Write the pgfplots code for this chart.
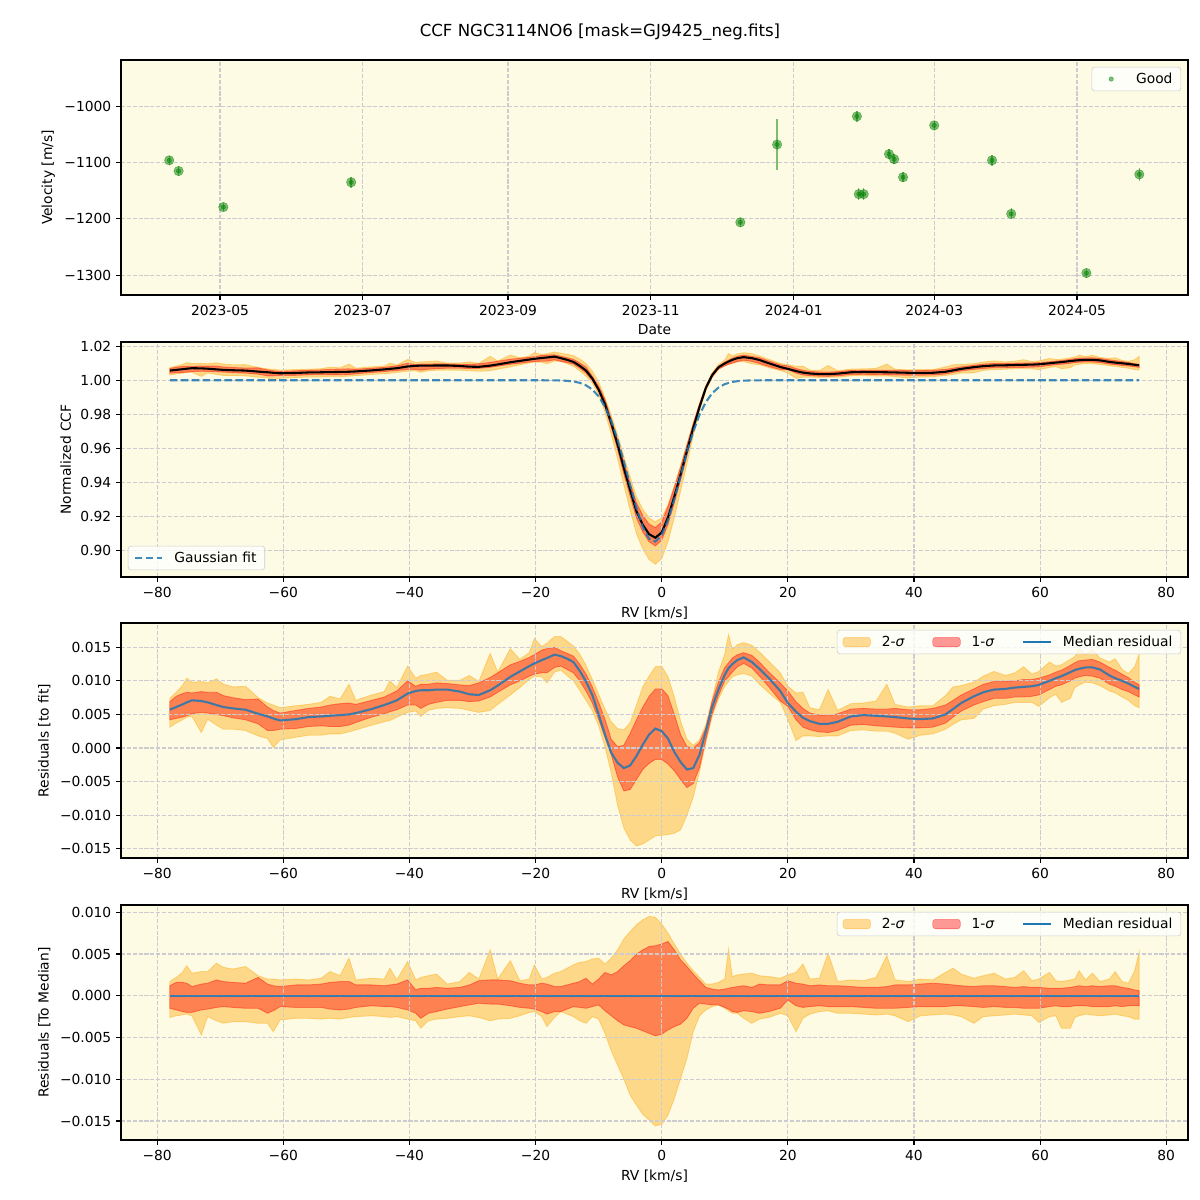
\documentclass[border=0pt]{standalone}
\usepackage{fontspec}
\setmainfont{DejaVu Sans}
\usepackage{pgfplots}
\usepackage{pgfplotstable}
\pgfplotsset{compat=1.18}
\usepgfplotslibrary{fillbetween}

\definecolor{bgc}{RGB}{253,251,227}
\definecolor{gridc}{RGB}{203,203,208}
\definecolor{cO}{RGB}{31,119,180}
\definecolor{band2}{RGB}{255,165,0}
\definecolor{band1}{RGB}{255,0,0}
\definecolor{good}{RGB}{0,128,0}
\definecolor{legedge}{RGB}{204,204,204}

\pgfplotsset{
  layers/bandsbelowgrid/.define layer set={
    axis background,fills,axis grid,axis ticks,axis lines,axis tick labels,pre main,main,axis descriptions,axis foreground
  }{
    grid style={/pgfplots/on layer=axis grid},
    tick style={/pgfplots/on layer=axis ticks},
    axis line style={/pgfplots/on layer=axis lines},
    label style={/pgfplots/on layer=axis descriptions},
    legend style={/pgfplots/on layer=axis descriptions},
    title style={/pgfplots/on layer=axis descriptions},
    colorbar style={/pgfplots/on layer=axis descriptions},
    ticklabel style={/pgfplots/on layer=axis tick labels},
    axis background@ style={/pgfplots/on layer=axis background},
    3d box foreground style={/pgfplots/on layer=axis foreground},
  },
  panel/.style={
    set layers=bandsbelowgrid,
    scale only axis, width=10.67in, height=2.35in,
    axis background/.style={fill=bgc},
    grid=major,
    grid style={gridc, line width=0.8pt, dash pattern=on 2.96pt off 1.28pt},
    tick align=outside, tick pos=left,
    major tick length=3.5pt,
    tick style={black, line width=0.8pt},
    axis line style={line width=0.8pt},
    scaled y ticks=false, scaled x ticks=false,
    legend cell align=left,
    legend style={fill=white, fill opacity=0.8, text opacity=1, draw=legedge, rounded corners=2pt,
      inner xsep=4pt, inner ysep=2pt,
      /tikz/every odd column/.append style={column sep=6pt}},
  },
  rv axis/.style={
    xmin=-85.74, xmax=83.46,
    xtick={-80,-60,-40,-20,0,20,40,60,80},
    xticklabels={−80,−60,−40,−20,0,20,40,60,80},
    xlabel={RV [km/s]},
  },
  twosig/.style={fill=band2, fill opacity=0.4, draw=band2, draw opacity=0.4, line width=0.6pt},
  onesig/.style={fill=band1, fill opacity=0.4, draw=band1, draw opacity=0.4, line width=0.6pt},
  patch legend/.style={legend image code/.code={\draw[##1] (0cm,-0.12cm) rectangle (0.7cm,0.12cm);}},
  wide line legend/.style={legend image code/.code={\draw[##1] (0cm,0cm) -- (0.7cm,0cm);}},
  dot legend/.style={legend image code/.code={\path[draw=none, fill=none] (0cm,0cm) rectangle (0.7cm,0cm); \draw[##1] plot coordinates {(0.35cm,0cm)};}},
}

\begin{document}

% RV time series, x = days since 2023-01-01
\pgfplotstableread{
d v e
98.3 -1096 8
102.3 -1115 9
121.4 -1179 7
176.0 -1135 10
342.2 -1206 8
357.9 -1068 45
392.0 -1018 10
392.8 -1156 10
394.9 -1156 11
405.7 -1085 9
407.9 -1094 9
411.7 -1126 9
425.0 -1034 8
449.7 -1096 10
457.9 -1191 10
490.0 -1296 8
512.6 -1121 11
}\tabrv

\pgfplotstableread{
x g
-78 1.0000
-20 1.0000
-18 0.99998
-17 0.99994
-16 0.99986
-15 0.99967
-14 0.99928
-13 0.99849
-12 0.99705
-11 0.99455
-10 0.99052
-9 0.98447
-8 0.97601
-7 0.96509
-6 0.95215
-5 0.93820
-4 0.92477
-3 0.91373
-2 0.90679
-1 0.90511
0 0.90899
1 0.91774
2 0.92996
3 0.94380
4 0.95752
5 0.96974
6 0.97970
7 0.98716
8 0.99235
9 0.99571
10 0.99773
11 0.99887
12 0.99947
13 0.99976
14 0.99990
15 0.99996
16 1.0000
75.7 1.0000
}\tabgauss

% CCF median and its 1/2-sigma envelopes
\pgfplotstableread{
x c l2 l1 u1 u2
-78.0 1.0057 1.0031 1.0042 1.0069 1.0074
-77.0 1.0061 1.0037 1.0044 1.0077 1.0083
-76.0 1.0065 1.0042 1.0046 1.0081 1.0093
-75.3 1.0068 1.0046 1.0048 1.0083 1.0104
-74.5 1.0071 1.0047 1.0051 1.0082 1.0098
-73.0 1.0070 1.0023 1.0053 1.0084 1.0099
-72.0 1.0068 1.0043 1.0052 1.0083 1.0097
-70.6 1.0064 1.0034 1.0050 1.0083 1.0103
-69.5 1.0061 1.0028 1.0048 1.0078 1.0095
-68.0 1.0059 1.0028 1.0045 1.0075 1.0091
-66.0 1.0057 1.0026 1.0042 1.0072 1.0092
-64.0 1.0051 1.0018 1.0036 1.0073 1.0075
-62.5 1.0047 1.0014 1.0026 1.0061 1.0067
-61.6 1.0044 1.0001 1.0026 1.0056 1.0064
-60.5 1.0041 1.0012 1.0028 1.0052 1.0060
-58.0 1.0043 1.0016 1.0029 1.0056 1.0063
-56.0 1.0046 1.0019 1.0032 1.0059 1.0065
-54.0 1.0047 1.0019 1.0033 1.0061 1.0068
-52.6 1.0048 1.0021 1.0032 1.0064 1.0077
-51.0 1.0049 1.0021 1.0032 1.0066 1.0073
-49.6 1.0050 1.0024 1.0034 1.0067 1.0095
-48.5 1.0052 1.0027 1.0038 1.0065 1.0071
-46.0 1.0058 1.0034 1.0046 1.0071 1.0079
-44.0 1.0064 1.0039 1.0051 1.0076 1.0084
-43.1 1.0067 1.0041 1.0054 1.0080 1.0100
-42.0 1.0071 1.0046 1.0057 1.0085 1.0090
-40.3 1.0081 1.0053 1.0064 1.0100 1.0122
-39.0 1.0085 1.0055 1.0064 1.0092 1.0104
-38.2 1.0086 1.0047 1.0059 1.0095 1.0108
-37.0 1.0086 1.0056 1.0065 1.0095 1.0110
-35.7 1.0087 1.0059 1.0068 1.0097 1.0113
-34.0 1.0087 1.0060 1.0071 1.0096 1.0101
-32.0 1.0084 1.0059 1.0071 1.0094 1.0101
-30.5 1.0080 1.0056 1.0069 1.0093 1.0108
-29.0 1.0079 1.0053 1.0070 1.0097 1.0099
-27.2 1.0086 1.0056 1.0076 1.0105 1.0141
-26.0 1.0093 1.0065 1.0083 1.0112 1.0113
-24.0 1.0106 1.0079 1.0094 1.0124 1.0148
-22.5 1.0114 1.0090 1.0100 1.0129 1.0132
-21.0 1.0122 1.0102 1.0107 1.0135 1.0142
-20.2 1.0126 1.0107 1.0110 1.0139 1.0163
-19.0 1.0131 1.0106 1.0112 1.0146 1.0151
-18.2 1.0134 1.0097 1.0112 1.0148 1.0156
-17.0 1.0139 1.0113 1.0120 1.0150 1.0166
-16 1.0130 1.0111 1.0111 1.0141 1.0159
-15 1.0120 1.0098 1.0104 1.0133 1.0153
-14 1.0108 1.0083 1.0095 1.0123 1.0145
-13 1.0085 1.0055 1.0071 1.0102 1.0125
-12 1.0057 1.0024 1.0042 1.0078 1.0098
-11 1.0010 0.9985 0.9997 1.0024 1.0054
-10 0.9945 0.9917 0.9934 0.9965 0.9990
-9 0.9860 0.9815 0.9842 0.9888 0.9898
-8 0.9748 0.9682 0.9724 0.9773 0.9793
-7 0.9623 0.9540 0.9593 0.9652 0.9678
-6 0.9484 0.9384 0.9449 0.9520 0.9552
-5 0.9354 0.9235 0.9317 0.9396 0.9431
-4 0.9229 0.9098 0.9190 0.9279 0.9314
-3 0.9150 0.9008 0.9108 0.9205 0.9241
-2 0.9095 0.8946 0.9050 0.9154 0.9190
-1 0.9074 0.8918 0.9026 0.9134 0.9168
0 0.9105 0.8951 0.9059 0.9167 0.9191
1 0.9193 0.9050 0.9152 0.9258 0.9268
2 0.9316 0.9193 0.9279 0.9371 0.9378
3 0.9447 0.9348 0.9413 0.9490 0.9497
4 0.9584 0.9509 0.9557 0.9619 0.9623
5 0.9719 0.9676 0.9704 0.9745 0.9749
6 0.9843 0.9819 0.9834 0.9861 0.9865
7 0.9955 0.9938 0.9945 0.9965 0.9969
8 1.0030 1.0017 1.0019 1.0038 1.0044
9 1.0076 1.0065 1.0065 1.0083 1.0092
10 1.0099 1.0084 1.0085 1.0107 1.0119
10.6 1.0110 1.0092 1.0094 1.0119 1.0157
11.2 1.0120 1.0099 1.0101 1.0130 1.0143
12 1.0130 1.0109 1.0110 1.0141 1.0155
13 1.0136 1.0109 1.0118 1.0148 1.0162
14.3 1.0130 1.0097 1.0111 1.0140 1.0157
15.5 1.0119 1.0091 1.0098 1.0133 1.0143
17 1.0100 1.0074 1.0081 1.0113 1.0123
18.8 1.0078 1.0057 1.0063 1.0091 1.0099
20.0 1.0067 1.0043 1.0062 1.0085 1.0092
21.3 1.0054 1.0011 1.0042 1.0069 1.0082
22.4 1.0045 1.0018 1.0031 1.0059 1.0083
23.5 1.0040 1.0018 1.0027 1.0052 1.0060
25.0 1.0036 1.0017 1.0024 1.0049 1.0057
26.4 1.0036 1.0018 1.0023 1.0048 1.0087
27.9 1.0039 1.0018 1.0026 1.0051 1.0056
30.0 1.0047 1.0026 1.0034 1.0058 1.0066
32.0 1.0049 1.0027 1.0035 1.0059 1.0067
34.0 1.0048 1.0025 1.0033 1.0058 1.0070
35.7 1.0047 1.0025 1.0032 1.0058 1.0095
37.0 1.0046 1.0022 1.0031 1.0059 1.0065
39.1 1.0044 1.0013 1.0030 1.0057 1.0061
41.0 1.0043 1.0019 1.0030 1.0057 1.0063
43.0 1.0044 1.0021 1.0031 1.0059 1.0063
45.0 1.0050 1.0028 1.0037 1.0064 1.0078
46.2 1.0058 1.0035 1.0046 1.0071 1.0091
47.5 1.0067 1.0042 1.0055 1.0079 1.0093
49.5 1.0077 1.0044 1.0064 1.0088 1.0098
51.0 1.0083 1.0058 1.0069 1.0095 1.0107
52.7 1.0087 1.0063 1.0074 1.0099 1.0114
54.5 1.0088 1.0065 1.0074 1.0099 1.0108
56.0 1.0090 1.0068 1.0076 1.0100 1.0112
57.4 1.0091 1.0068 1.0076 1.0102 1.0121
58.7 1.0092 1.0068 1.0077 1.0102 1.0110
59.8 1.0094 1.0062 1.0079 1.0104 1.0114
61.5 1.0100 1.0075 1.0087 1.0109 1.0128
62.5 1.0104 1.0080 1.0092 1.0113 1.0122
63.4 1.0107 1.0068 1.0094 1.0116 1.0124
64.8 1.0113 1.0074 1.0100 1.0123 1.0132
65.5 1.0116 1.0090 1.0104 1.0127 1.0136
66.2 1.0118 1.0094 1.0106 1.0130 1.0148
67.2 1.0120 1.0098 1.0108 1.0131 1.0139
68.3 1.0120 1.0097 1.0107 1.0132 1.0147
69.5 1.0117 1.0093 1.0104 1.0128 1.0134
71.0 1.0108 1.0085 1.0095 1.0120 1.0128
71.9 1.0104 1.0082 1.0092 1.0116 1.0133
73.0 1.0100 1.0076 1.0087 1.0110 1.0117
74.0 1.0096 1.0071 1.0084 1.0105 1.0111
75.0 1.0091 1.0063 1.0079 1.0098 1.0121
75.7 1.0088 1.0060 1.0076 1.0094 1.0140
}\tabccf

% residuals to the Gaussian fit: median and envelopes
\pgfplotstableread{
x m l2 l1 u1 u2
-78.0 0.0057 0.0031 0.0042 0.0069 0.0074
-77.0 0.0061 0.0037 0.0044 0.0077 0.0083
-76.0 0.0065 0.0042 0.0046 0.0081 0.0093
-75.3 0.0068 0.0046 0.0048 0.0083 0.0104
-74.5 0.0071 0.0047 0.0051 0.0082 0.0098
-73.0 0.0070 0.0023 0.0053 0.0084 0.0099
-72.0 0.0068 0.0043 0.0052 0.0083 0.0097
-70.6 0.0064 0.0034 0.0050 0.0083 0.0103
-69.5 0.0061 0.0028 0.0048 0.0078 0.0095
-68.0 0.0059 0.0028 0.0045 0.0075 0.0091
-66.0 0.0057 0.0026 0.0042 0.0072 0.0092
-64.0 0.0051 0.0018 0.0036 0.0073 0.0075
-62.5 0.0047 0.0014 0.0026 0.0061 0.0067
-61.6 0.0044 0.0001 0.0026 0.0056 0.0064
-60.5 0.0041 0.0012 0.0028 0.0052 0.0060
-58.0 0.0043 0.0016 0.0029 0.0056 0.0063
-56.0 0.0046 0.0019 0.0032 0.0059 0.0065
-54.0 0.0047 0.0019 0.0033 0.0061 0.0068
-52.6 0.0048 0.0021 0.0032 0.0064 0.0077
-51.0 0.0049 0.0021 0.0032 0.0066 0.0073
-49.6 0.0050 0.0024 0.0034 0.0067 0.0095
-48.5 0.0052 0.0027 0.0038 0.0065 0.0071
-46.0 0.0058 0.0034 0.0046 0.0071 0.0079
-44.0 0.0064 0.0039 0.0051 0.0076 0.0084
-43.1 0.0067 0.0041 0.0054 0.0080 0.0100
-42.0 0.0071 0.0046 0.0057 0.0085 0.0090
-40.3 0.0081 0.0053 0.0064 0.0100 0.0122
-39.0 0.0085 0.0055 0.0064 0.0092 0.0104
-38.2 0.0086 0.0047 0.0059 0.0095 0.0108
-37.0 0.0086 0.0056 0.0065 0.0095 0.0110
-35.7 0.0087 0.0059 0.0068 0.0097 0.0113
-34.0 0.0087 0.0060 0.0071 0.0096 0.0101
-32.0 0.0084 0.0059 0.0071 0.0094 0.0101
-30.5 0.0080 0.0056 0.0069 0.0093 0.0108
-29.0 0.0079 0.0053 0.0070 0.0097 0.0099
-27.2 0.0086 0.0056 0.0076 0.0105 0.0141
-26.0 0.0093 0.0065 0.0083 0.0112 0.0113
-24.0 0.0106 0.0079 0.0094 0.0124 0.0148
-22.5 0.0114 0.0090 0.0100 0.0129 0.0132
-21.0 0.0122 0.0102 0.0107 0.0135 0.0142
-20.2 0.0126 0.0107 0.0110 0.0139 0.0163
-19.0 0.0131 0.0106 0.0112 0.0146 0.0151
-18.2 0.0134 0.0097 0.0112 0.0148 0.0156
-17.0 0.0139 0.0113 0.0120 0.0150 0.0166
-16 0.0137 0.0116 0.0122 0.0145 0.0166
-15 0.0133 0.0108 0.0117 0.0141 0.0159
-14 0.0128 0.0100 0.0112 0.0137 0.0152
-13 0.0115 0.0086 0.0100 0.0125 0.0140
-12 0.0099 0.0071 0.0085 0.0110 0.0123
-11 0.0079 0.0056 0.0067 0.0091 0.0102
-10 0.0050 0.0033 0.0043 0.0068 0.0080
-9 0.0020 0.0002 0.0016 0.0043 0.0058
-8 -0.0007 -0.0037 -0.0010 0.0013 0.0039
-7 -0.0022 -0.0085 -0.0043 0.0002 0.0029
-6 -0.0030 -0.0119 -0.0064 0.0004 0.0027
-5 -0.0026 -0.0137 -0.0062 0.0022 0.0038
-4 -0.0012 -0.0146 -0.0047 0.0042 0.0064
-3 0.0005 -0.0143 -0.0032 0.0061 0.0091
-2 0.0020 -0.0137 -0.0023 0.0077 0.0107
-1 0.0029 -0.0131 -0.0017 0.0088 0.0121
0 0.0025 -0.0130 -0.0017 0.0088 0.0122
1 0.0014 -0.0129 -0.0024 0.0078 0.0106
2 -0.0006 -0.0127 -0.0034 0.0050 0.0076
3 -0.0021 -0.0122 -0.0047 0.0020 0.0040
4 -0.0032 -0.0100 -0.0059 0.0002 0.0013
5 -0.0030 -0.0073 -0.0053 0.0000 0.0004
6 -0.0010 -0.0035 -0.0029 0.0008 0.0012
7 0.0025 0.0008 0.0012 0.0030 0.0035
8 0.0061 0.0047 0.0051 0.0070 0.0072
9 0.0087 0.0073 0.0078 0.0098 0.0113
10 0.0109 0.0092 0.0100 0.0120 0.0140
10.6 0.0119 0.0099 0.0106 0.0127 0.0169
11.2 0.0125 0.0106 0.0113 0.0134 0.0147
12 0.0131 0.0109 0.0121 0.0139 0.0154
13 0.0135 0.0111 0.0126 0.0142 0.0157
14.3 0.0128 0.0107 0.0119 0.0138 0.0153
15.5 0.0118 0.0095 0.0107 0.0128 0.0143
17 0.0104 0.0082 0.0091 0.0113 0.0129
18.8 0.0085 0.0068 0.0070 0.0097 0.0112
20.0 0.0067 0.0043 0.0062 0.0085 0.0092
21.3 0.0054 0.0011 0.0042 0.0069 0.0082
22.4 0.0045 0.0018 0.0031 0.0059 0.0083
23.5 0.0040 0.0018 0.0027 0.0052 0.0060
25.0 0.0036 0.0017 0.0024 0.0049 0.0057
26.4 0.0036 0.0018 0.0023 0.0048 0.0087
27.9 0.0039 0.0018 0.0026 0.0051 0.0056
30.0 0.0047 0.0026 0.0034 0.0058 0.0066
32.0 0.0049 0.0027 0.0035 0.0059 0.0067
34.0 0.0048 0.0025 0.0033 0.0058 0.0070
35.7 0.0047 0.0025 0.0032 0.0058 0.0095
37.0 0.0046 0.0022 0.0031 0.0059 0.0065
39.1 0.0044 0.0013 0.0030 0.0057 0.0061
41.0 0.0043 0.0019 0.0030 0.0057 0.0063
43.0 0.0044 0.0021 0.0031 0.0059 0.0063
45.0 0.0050 0.0028 0.0037 0.0064 0.0078
46.2 0.0058 0.0035 0.0046 0.0071 0.0091
47.5 0.0067 0.0042 0.0055 0.0079 0.0093
49.5 0.0077 0.0044 0.0064 0.0088 0.0098
51.0 0.0083 0.0058 0.0069 0.0095 0.0107
52.7 0.0087 0.0063 0.0074 0.0099 0.0114
54.5 0.0088 0.0065 0.0074 0.0099 0.0108
56.0 0.0090 0.0068 0.0076 0.0100 0.0112
57.4 0.0091 0.0068 0.0076 0.0102 0.0121
58.7 0.0092 0.0068 0.0077 0.0102 0.0110
59.8 0.0094 0.0062 0.0079 0.0104 0.0114
61.5 0.0100 0.0075 0.0087 0.0109 0.0128
62.5 0.0104 0.0080 0.0092 0.0113 0.0122
63.4 0.0107 0.0068 0.0094 0.0116 0.0124
64.8 0.0113 0.0074 0.0100 0.0123 0.0132
65.5 0.0116 0.0090 0.0104 0.0127 0.0136
66.2 0.0118 0.0094 0.0106 0.0130 0.0148
67.2 0.0120 0.0098 0.0108 0.0131 0.0139
68.3 0.0120 0.0097 0.0107 0.0132 0.0147
69.5 0.0117 0.0093 0.0104 0.0128 0.0134
71.0 0.0108 0.0085 0.0095 0.0120 0.0128
71.9 0.0104 0.0082 0.0092 0.0116 0.0133
73.0 0.0100 0.0076 0.0087 0.0110 0.0117
74.0 0.0096 0.0071 0.0084 0.0105 0.0111
75.0 0.0091 0.0063 0.0079 0.0098 0.0121
75.7 0.0088 0.0060 0.0076 0.0094 0.0140
}\tabres

% residuals to the median CCF: envelopes
\pgfplotstableread{
x l2 l1 u1 u2
-78.0 -0.0026 -0.0015 0.0012 0.0017
-77.0 -0.0024 -0.0017 0.0016 0.0022
-76.0 -0.0023 -0.0019 0.0016 0.0028
-75.3 -0.0022 -0.0020 0.0015 0.0036
-74.5 -0.0024 -0.0020 0.0011 0.0027
-73.0 -0.0047 -0.0017 0.0014 0.0029
-72.0 -0.0025 -0.0016 0.0015 0.0029
-70.6 -0.0030 -0.0014 0.0019 0.0039
-69.5 -0.0033 -0.0013 0.0017 0.0034
-68.0 -0.0031 -0.0014 0.0016 0.0032
-66.0 -0.0031 -0.0015 0.0015 0.0035
-64.0 -0.0033 -0.0015 0.0022 0.0024
-62.5 -0.0033 -0.0021 0.0014 0.0020
-61.6 -0.0043 -0.0018 0.0012 0.0020
-60.5 -0.0029 -0.0013 0.0011 0.0019
-58.0 -0.0027 -0.0014 0.0013 0.0020
-56.0 -0.0027 -0.0014 0.0013 0.0019
-54.0 -0.0028 -0.0014 0.0014 0.0021
-52.6 -0.0027 -0.0016 0.0016 0.0029
-51.0 -0.0028 -0.0017 0.0017 0.0024
-49.6 -0.0026 -0.0016 0.0017 0.0045
-48.5 -0.0025 -0.0014 0.0013 0.0019
-46.0 -0.0024 -0.0012 0.0013 0.0021
-44.0 -0.0025 -0.0013 0.0012 0.0020
-43.1 -0.0026 -0.0013 0.0013 0.0033
-42.0 -0.0025 -0.0014 0.0014 0.0019
-40.3 -0.0028 -0.0017 0.0019 0.0041
-39.0 -0.0030 -0.0021 0.0007 0.0019
-38.2 -0.0039 -0.0027 0.0009 0.0022
-37.0 -0.0030 -0.0021 0.0009 0.0024
-35.7 -0.0028 -0.0019 0.0010 0.0026
-34.0 -0.0027 -0.0016 0.0009 0.0014
-32.0 -0.0025 -0.0013 0.0010 0.0017
-30.5 -0.0024 -0.0011 0.0013 0.0028
-29.0 -0.0026 -0.0009 0.0018 0.0020
-27.2 -0.0030 -0.0010 0.0019 0.0055
-26.0 -0.0028 -0.0010 0.0019 0.0020
-24.0 -0.0027 -0.0012 0.0018 0.0042
-22.5 -0.0024 -0.0014 0.0015 0.0018
-21.0 -0.0020 -0.0015 0.0013 0.0020
-20.2 -0.0019 -0.0016 0.0013 0.0037
-19.0 -0.0025 -0.0019 0.0015 0.0020
-18.2 -0.0037 -0.0022 0.0014 0.0022
-17.0 -0.0026 -0.0019 0.0011 0.0027
-16 -0.0019 -0.0019 0.0011 0.0029
-15 -0.0022 -0.0016 0.0013 0.0033
-14 -0.0025 -0.0013 0.0015 0.0037
-13 -0.0030 -0.0014 0.0017 0.0040
-12 -0.0033 -0.0015 0.0021 0.0041
-11 -0.0025 -0.0013 0.0014 0.0044
-10 -0.0028 -0.0011 0.0020 0.0045
-9 -0.0045 -0.0018 0.0028 0.0038
-8 -0.0066 -0.0024 0.0025 0.0045
-7 -0.0083 -0.0030 0.0029 0.0055
-6 -0.0100 -0.0035 0.0036 0.0068
-5 -0.0119 -0.0037 0.0042 0.0077
-4 -0.0131 -0.0039 0.0050 0.0085
-3 -0.0142 -0.0042 0.0055 0.0091
-2 -0.0149 -0.0045 0.0059 0.0095
-1 -0.0156 -0.0048 0.0060 0.0094
0 -0.0154 -0.0046 0.0062 0.0086
1 -0.0143 -0.0041 0.0065 0.0075
2 -0.0123 -0.0037 0.0055 0.0062
3 -0.0099 -0.0034 0.0043 0.0050
4 -0.0075 -0.0027 0.0035 0.0039
5 -0.0043 -0.0015 0.0026 0.0030
6 -0.0024 -0.0009 0.0018 0.0022
7 -0.0017 -0.0010 0.0010 0.0014
8 -0.0013 -0.0011 0.0008 0.0014
9 -0.0011 -0.0011 0.0007 0.0016
10 -0.0015 -0.0014 0.0008 0.0020
10.6 -0.0018 -0.0016 0.0009 0.0056
11.2 -0.0021 -0.0019 0.0010 0.0023
12 -0.0021 -0.0020 0.0011 0.0025
13 -0.0027 -0.0018 0.0012 0.0026
14.3 -0.0033 -0.0019 0.0010 0.0027
15.5 -0.0028 -0.0021 0.0014 0.0024
17 -0.0026 -0.0019 0.0013 0.0023
18.8 -0.0021 -0.0015 0.0013 0.0021
20.0 -0.0024 -0.0005 0.0018 0.0025
21.3 -0.0043 -0.0012 0.0015 0.0028
22.4 -0.0027 -0.0014 0.0014 0.0038
23.5 -0.0022 -0.0013 0.0012 0.0020
25.0 -0.0019 -0.0012 0.0013 0.0021
26.4 -0.0018 -0.0013 0.0012 0.0051
27.9 -0.0021 -0.0013 0.0012 0.0017
30.0 -0.0021 -0.0013 0.0011 0.0019
32.0 -0.0022 -0.0014 0.0010 0.0018
34.0 -0.0023 -0.0015 0.0010 0.0022
35.7 -0.0022 -0.0015 0.0011 0.0048
37.0 -0.0024 -0.0015 0.0013 0.0019
39.1 -0.0031 -0.0014 0.0013 0.0017
41.0 -0.0024 -0.0013 0.0014 0.0020
43.0 -0.0023 -0.0013 0.0015 0.0019
45.0 -0.0022 -0.0013 0.0014 0.0028
46.2 -0.0023 -0.0012 0.0013 0.0033
47.5 -0.0025 -0.0012 0.0012 0.0026
49.5 -0.0033 -0.0013 0.0011 0.0021
51.0 -0.0025 -0.0014 0.0012 0.0024
52.7 -0.0024 -0.0013 0.0012 0.0027
54.5 -0.0023 -0.0014 0.0011 0.0020
56.0 -0.0022 -0.0014 0.0010 0.0022
57.4 -0.0023 -0.0015 0.0011 0.0030
58.7 -0.0024 -0.0015 0.0010 0.0018
59.8 -0.0032 -0.0015 0.0010 0.0020
61.5 -0.0025 -0.0013 0.0009 0.0028
62.5 -0.0024 -0.0012 0.0009 0.0018
63.4 -0.0039 -0.0013 0.0009 0.0017
64.8 -0.0039 -0.0013 0.0010 0.0019
65.5 -0.0026 -0.0012 0.0011 0.0020
66.2 -0.0024 -0.0012 0.0012 0.0030
67.2 -0.0022 -0.0012 0.0011 0.0019
68.3 -0.0023 -0.0013 0.0012 0.0027
69.5 -0.0024 -0.0013 0.0011 0.0017
71.0 -0.0023 -0.0013 0.0012 0.0020
71.9 -0.0022 -0.0012 0.0012 0.0029
73.0 -0.0024 -0.0013 0.0010 0.0017
74.0 -0.0025 -0.0012 0.0009 0.0015
75.0 -0.0028 -0.0012 0.0007 0.0030
75.7 -0.0028 -0.0012 0.0006 0.0052
}\tabmed

\pgfplotstableread{
x m
-78.0 0
75.7 0
}\tabzero

\begin{tikzpicture}

% ---- panel 1: RV vs date
\begin{axis}[panel, at={(0,0)}, anchor=north west,
  xmin=77.7, xmax=533.4, ymin=-1335, ymax=-918,
  xtick={120,181,243,304,365,425,486},
  xticklabels={2023-05,2023-07,2023-09,2023-11,2024-01,2024-03,2024-05},
  ytick={-1300,-1200,-1100,-1000},
  yticklabels={−1300,−1200,−1100,−1000},
  xlabel={Date}, ylabel={Velocity [m/s]},
  legend style={at={(1,1)}, anchor=north east, xshift=-5pt, yshift=-5pt},
]
\addplot[only marks, mark=*, mark size=3.4pt, good, opacity=0.5, forget plot,
  error bars/.cd, y dir=both, y explicit, error mark=none,
  error bar style={good, line width=1pt}]
  table[x=d, y=v, y error=e]{\tabrv};
\addplot[only marks, mark=*, mark size=1.6pt, good, opacity=0.5, dot legend] table[x=d, y=v]{\tabrv};
\addlegendentry{Good}
\end{axis}

% ---- panel 2: CCF
\begin{axis}[panel, rv axis, at={(0,-2.82in)}, anchor=north west,
  ymin=0.8843, ymax=1.0225,
  ytick={0.90,0.92,0.94,0.96,0.98,1.00,1.02},
  yticklabels={0.90,0.92,0.94,0.96,0.98,1.00,1.02},
  ylabel={Normalized CCF},
  legend style={at={(0,0)}, anchor=south west, xshift=5pt, yshift=5pt},
]
\addplot[draw=none, name path=cu2, forget plot] table[x=x, y=u2]{\tabccf};
\addplot[draw=none, name path=cl2, forget plot] table[x=x, y=l2]{\tabccf};
\addplot[draw=none, name path=cu1, forget plot] table[x=x, y=u1]{\tabccf};
\addplot[draw=none, name path=cl1, forget plot] table[x=x, y=l1]{\tabccf};
\addplot[twosig, forget plot] fill between[of=cu2 and cl2, on layer=fills];
\addplot[onesig, forget plot] fill between[of=cu1 and cl1, on layer=fills];
\addplot[black, line width=1.5pt, forget plot] table[x=x, y=c]{\tabccf};
\addplot[cO, opacity=0.85, line width=1.5pt, dash pattern=on 5.5pt off 2.4pt, wide line legend] table[x=x, y=g]{\tabgauss};
\addlegendentry{Gaussian fit}
\end{axis}

% ---- panel 3: residuals to fit
\begin{axis}[panel, rv axis, at={(0,-5.63in)}, anchor=north west,
  ymin=-0.01639, ymax=0.01862,
  ytick={-0.015,-0.01,-0.005,0,0.005,0.01,0.015},
  yticklabels={−0.015,−0.010,−0.005,0.000,0.005,0.010,0.015},
  ylabel={Residuals [to fit]},
  legend columns=3,
  legend style={at={(1,1)}, anchor=north east, xshift=-5pt, yshift=-5pt,
    /tikz/every even column/.append style={column sep=18pt}},
]
\addplot[draw=none, name path=ru2, forget plot] table[x=x, y=u2]{\tabres};
\addplot[draw=none, name path=rl2, forget plot] table[x=x, y=l2]{\tabres};
\addplot[draw=none, name path=ru1, forget plot] table[x=x, y=u1]{\tabres};
\addplot[draw=none, name path=rl1, forget plot] table[x=x, y=l1]{\tabres};
\addplot[twosig, forget plot] fill between[of=ru2 and rl2, on layer=fills];
\addplot[onesig, forget plot] fill between[of=ru1 and rl1, on layer=fills];
\addplot[cO, opacity=0.85, line width=1.5pt, forget plot] table[x=x, y=m]{\tabres};
\addlegendimage{patch legend, fill=band2, fill opacity=0.4, draw=band2, draw opacity=0.4}
\addlegendentry{2-\textit{σ}}
\addlegendimage{patch legend, fill=band1, fill opacity=0.4, draw=band1, draw opacity=0.4}
\addlegendentry{1-\textit{σ}}
\addlegendimage{wide line legend, cO, line width=1.5pt}
\addlegendentry{Median residual}
\end{axis}

% ---- panel 4: residuals to median
\begin{axis}[panel, rv axis, at={(0,-8.45in)}, anchor=north west,
  ymin=-0.01728, ymax=0.01087,
  ytick={-0.015,-0.01,-0.005,0,0.005,0.01},
  yticklabels={−0.015,−0.010,−0.005,0.000,0.005,0.010},
  ylabel={Residuals [To Median]},
  legend columns=3,
  legend style={at={(1,1)}, anchor=north east, xshift=-5pt, yshift=-5pt,
    /tikz/every even column/.append style={column sep=18pt}},
]
\addplot[draw=none, name path=mu2, forget plot] table[x=x, y=u2]{\tabmed};
\addplot[draw=none, name path=ml2, forget plot] table[x=x, y=l2]{\tabmed};
\addplot[draw=none, name path=mu1, forget plot] table[x=x, y=u1]{\tabmed};
\addplot[draw=none, name path=ml1, forget plot] table[x=x, y=l1]{\tabmed};
\addplot[twosig, forget plot] fill between[of=mu2 and ml2, on layer=fills];
\addplot[onesig, forget plot] fill between[of=mu1 and ml1, on layer=fills];
\addplot[cO, opacity=0.85, line width=1.5pt, forget plot] table[x=x, y=m]{\tabzero};
\addlegendimage{patch legend, fill=band2, fill opacity=0.4, draw=band2, draw opacity=0.4}
\addlegendentry{2-\textit{σ}}
\addlegendimage{patch legend, fill=band1, fill opacity=0.4, draw=band1, draw opacity=0.4}
\addlegendentry{1-\textit{σ}}
\addlegendimage{wide line legend, cO, line width=1.5pt}
\addlegendentry{Median residual}
\end{axis}

\node[font=\fontsize{12}{14}\selectfont] at (4.79in,0.28in) {CCF NGC3114NO6 [mask=GJ9425\_neg.fits]};
% page frame: the full figure area
\path (-1.21in,0.60in) rectangle (10.79in,-11.40in);
\end{tikzpicture}
\end{document}
